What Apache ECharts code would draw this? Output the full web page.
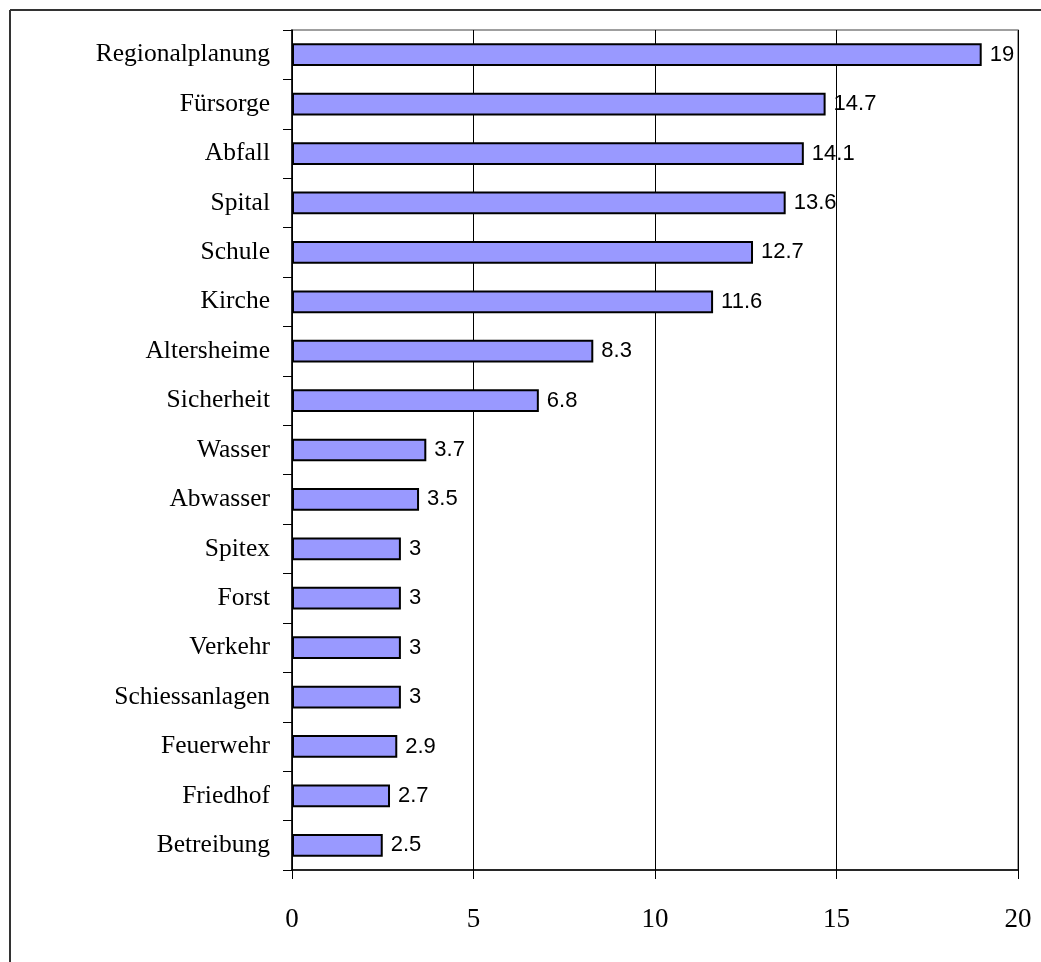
<!DOCTYPE html>
<html><head><meta charset="utf-8">
<script src="https://cdn.jsdelivr.net/npm/echarts@6/dist/echarts.min.js"></script>
<style>html,body{margin:0;padding:0;background:#fff}#c{width:1041px;height:962px}</style>
</head><body><div id="c"></div>
<script>
const categories = ["Regionalplanung","Fürsorge","Abfall","Spital","Schule","Kirche","Altersheime","Sicherheit","Wasser","Abwasser","Spitex","Forst","Verkehr","Schiessanlagen","Feuerwehr","Friedhof","Betreibung"];
const values = [19,14.7,14.1,13.6,12.7,11.6,8.3,6.8,3.7,3.5,3,3,3,3,2.9,2.7,2.5];
const xTicks = [0,5,10,15,20];

const chart = echarts.init(document.getElementById('c'), null, {renderer:'canvas'});
chart.setOption({
  animation:false,
  backgroundColor:'#fff',
  graphic:[
    {type:'line', shape:{x1:10,y1:10,x2:1041,y2:10}, style:{stroke:'#333',lineWidth:2}},
    {type:'line', shape:{x1:10,y1:10,x2:10,y2:962}, style:{stroke:'#333',lineWidth:2}}
  ],
  grid:{left:292, top:30, right:23, bottom:92, show:true, borderColor:'#808080', borderWidth:1.5, containLabel:false},
  xAxis:{
    type:'value', min:xTicks[0], max:xTicks[xTicks.length-1], interval:5,
    axisLine:{show:true, lineStyle:{color:'#000', width:1.5}},
    axisTick:{show:true, length:9, lineStyle:{color:'#000', width:1}},
    splitLine:{show:true, lineStyle:{color:'#000', width:1}},
    axisLabel:{margin:36, fontFamily:'Liberation Serif', fontSize:27, color:'#000'}
  },
  yAxis:{
    type:'category', data:categories, inverse:true,
    axisLine:{show:true, lineStyle:{color:'#000', width:1.5}},
    axisTick:{show:true, length:9, lineStyle:{color:'#000', width:1}},
    axisLabel:{margin:22, fontFamily:'Liberation Serif', fontSize:25.5, color:'#000'}
  },
  series:[{
    type:'bar', data:values, barWidth:'46%',
    itemStyle:{color:'#9999FF', borderColor:'#000', borderWidth:2},
    label:{show:true, position:'right', distance:8, fontFamily:'Liberation Sans', fontSize:22, color:'#000'}
  }]
});
</script></body></html>
